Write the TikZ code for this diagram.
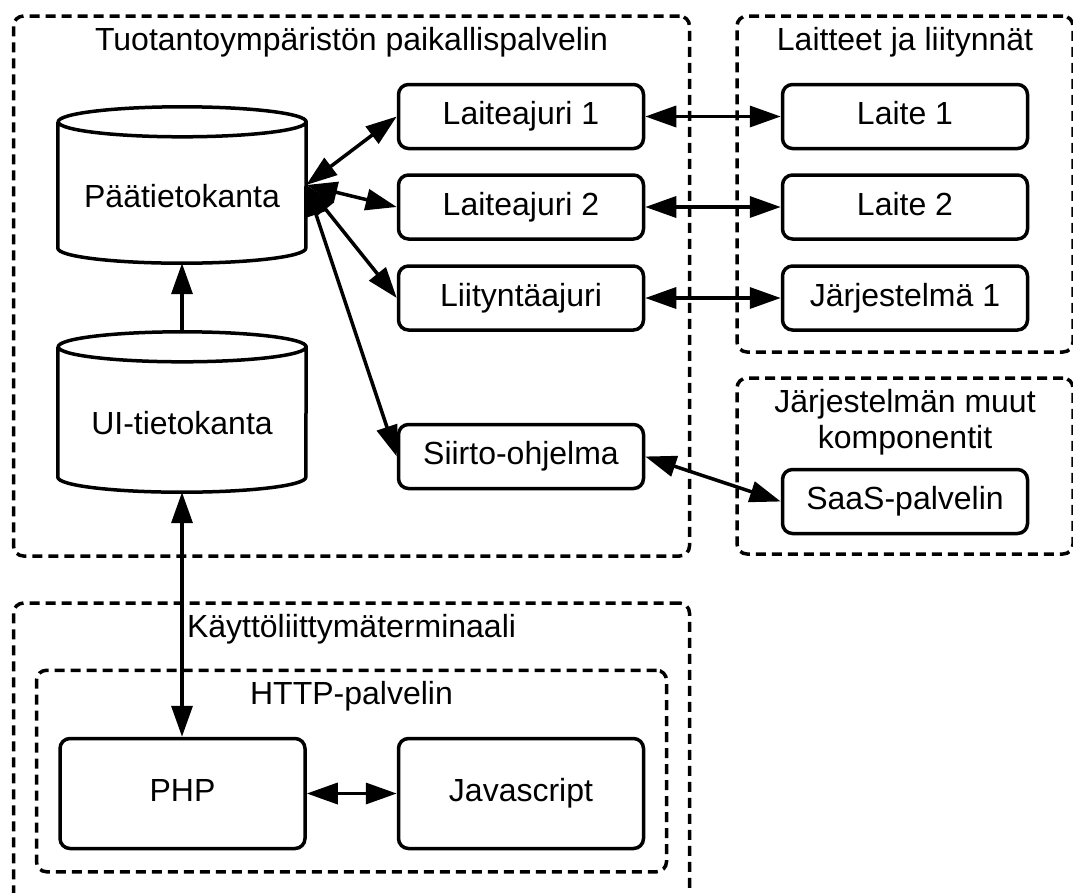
\documentclass[tikz,border=0pt]{standalone}
\usepackage{fontspec}
\setmainfont{Liberation Sans}
\usetikzlibrary{arrows.meta}

\begin{document}
\begin{tikzpicture}[x=1pt,y=-1pt,
  every node/.style={font=\fontsize{32}{36}\selectfont},
  box/.style={draw, line width=3.5pt, rounded corners=10pt, minimum width=245pt,
    minimum height=64pt, inner sep=0pt, text height=23pt, text depth=7pt},
  bigbox/.style={box, minimum height=110pt},
  group/.style={draw, line width=3.5pt, rounded corners=10pt,
    dash pattern=on 10pt off 6pt, inner sep=0pt},
  title/.style={anchor=base, inner sep=0pt},
  db/.style={minimum width=248pt, inner sep=0pt, text height=45pt, text depth=0pt},
  cyl/.style={line width=3.5pt, line join=round},
  tip/.tip={Triangle[length=31pt,width=21pt]},
  link/.style={line width=3.5pt, tip-tip},
  oneway/.style={line width=3.5pt, -tip}
]
\useasboundingbox (0,0) rectangle (1073,892);
\clip (0,0) rectangle (1073,892);

% dashed groups
\node[group, minimum width=676pt, minimum height=540pt] (gserver) at (351.5,286) {};
\node[group, minimum width=336pt, minimum height=336pt] (gdevices) at (905,184) {};
\node[group, minimum width=336pt, minimum height=176pt] (gother) at (905,466) {};
\node[group, minimum width=676pt, minimum height=302pt] (gterminal) at (351.5,754) {};
\node[group, minimum width=630pt, minimum height=201.5pt] (ghttp) at (351.5,771) {};

% group titles
\node[title] (tserver) at (351.5,50) {Tuotantoympäristön paikallispalvelin};
\node[title] (tdevices) at (905,50) {Laitteet ja liitynnät};
\node[anchor=north, inner sep=0pt, align=center] (tother) at (905,389) {Järjestelmän muut\\komponentit};
\node[title] (tterminal) at (351.5,637) {Käyttöliittymäterminaali};
\node[title] (thttp) at (351.5,704) {HTTP-palvelin};

% databases
\node[db, minimum height=156pt] (pdb) at (182,185) {Päätietokanta};
\node[db, minimum height=160pt] (ui) at (182,412) {UI-tietokanta};
\foreach \n in {pdb,ui}
  \draw[cyl] ([yshift=-15pt]\n.north west) -- ([yshift=15pt]\n.south west)
    arc[start angle=180, end angle=360, x radius=124pt, y radius=15pt]
    -- ([yshift=-15pt]\n.north east)
    arc[start angle=0, end angle=180, x radius=124pt, y radius=15pt]
    arc[start angle=180, end angle=360, x radius=124pt, y radius=15pt];

% drivers
\node[box] (la1) at (521,116.5) {Laiteajuri 1};
\node[box] (la2) at (521,207) {Laiteajuri 2};
\node[box] (lij) at (521,298) {Liityntäajuri};
\node[box] (sop) at (521,456.5) {Siirto-ohjelma};

% devices and services
\node[box] (lt1) at (905,116.5) {Laite 1};
\node[box] (lt2) at (905,207) {Laite 2};
\node[box] (js1) at (905,298) {Järjestelmä 1};
\node[box] (saas) at (905,501.5) {SaaS-palvelin};

% terminal
\node[bigbox] (php) at (182.5,793.5) {PHP};
\node[bigbox] (jsc) at (521,793.5) {Javascript};

% connectors
\draw[oneway] (ui.north) -- (pdb.south);
\draw[link] (ui.south) -- (ui.south |- php.north);
\draw[link] (pdb.east) -- (la1.west);
\draw[link] (pdb.east) -- (la2.west);
\draw[link] (pdb.east) -- (lij.west);
\draw[link] (pdb.east) -- (sop.west);
\draw[link] (la1.east) -- (lt1.west);
\draw[link] (la2.east) -- (lt2.west);
\draw[link] (lij.east) -- (js1.west);
\draw[link] (sop.east) -- (saas.west);
\draw[link] (php.east) -- (jsc.west);
\end{tikzpicture}
\end{document}
